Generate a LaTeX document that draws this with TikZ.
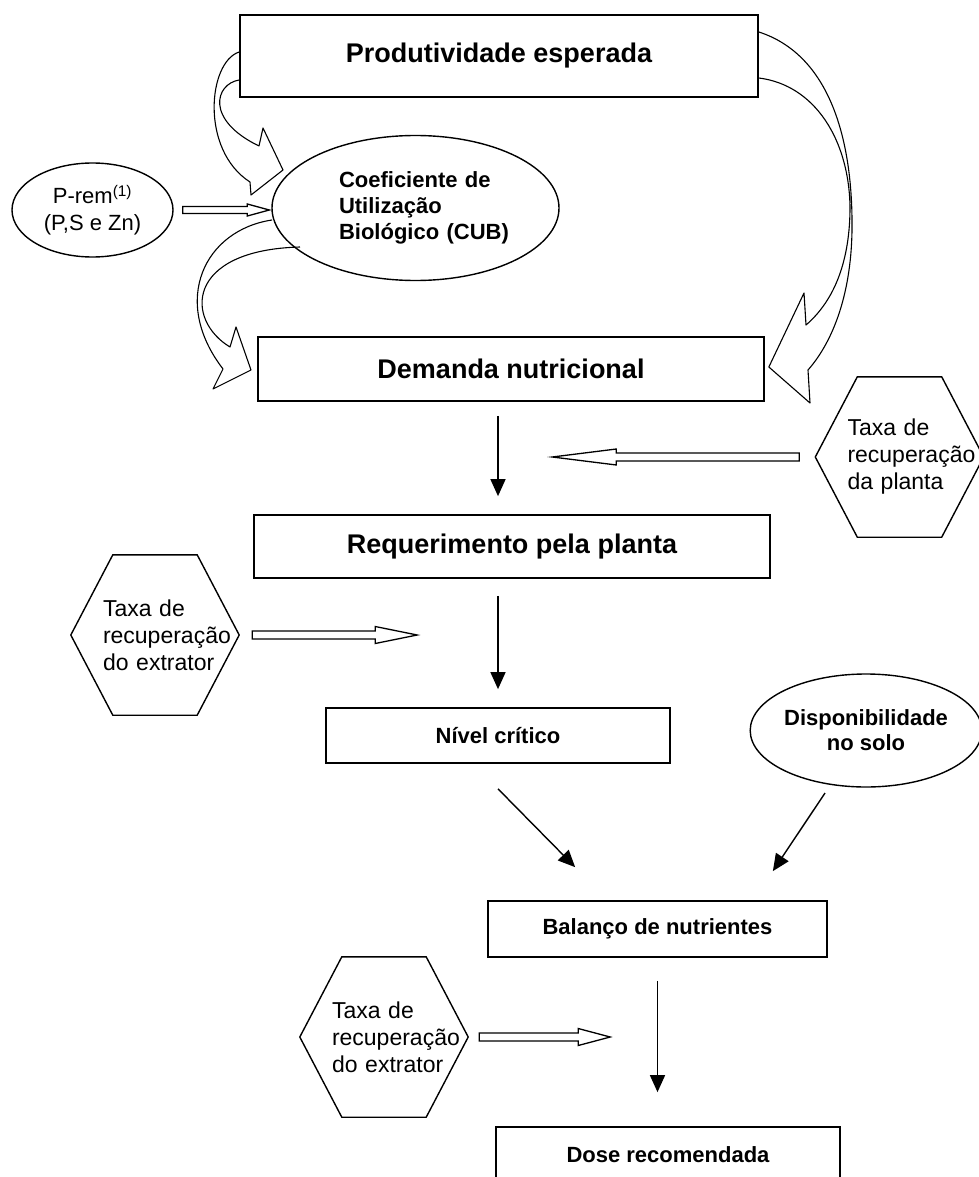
\documentclass[tikz,border=0pt]{standalone}
\usepackage{fontspec}
\setmainfont{Liberation Sans}
\usetikzlibrary{calc, arrows.meta, shapes.geometric, positioning}

\tikzset{
  caixa/.style={draw, line width=1.7pt, align=center, inner sep=0pt},
  caixagrande/.style={caixa, font=\fontsize{27}{32}\selectfont\bfseries},
  caixamenor/.style={caixa, font=\fontsize{22}{26}\selectfont\bfseries},
  elipse/.style={draw, ellipse, line width=1.4pt, inner sep=0pt},
  hexa/.style={inner sep=0pt, minimum width=168pt, minimum height=160pt,
    text width=104pt, align=left, font=\fontsize{23}{27}\selectfont},
  seta/.style={line width=1.4pt, -{Triangle[length=17pt,width=15pt]}},
  vazada/.style={line width=1.3pt, fill=white, line join=miter},
  curva/.style={line width=1.1pt, line join=round}
}

% hexagon frame around a named node
\newcommand{\hexframe}[1]{%
  \draw[line width=1.4pt] ($(#1.north west)+(42,0)$) -- ($(#1.north east)+(-42,0)$)
    -- (#1.east) -- ($(#1.south east)+(-42,0)$) -- ($(#1.south west)+(42,0)$)
    -- (#1.west) -- cycle;}

% hollow block arrow: tail, tip, head length, head half height, shaft half height
\newcommand{\blockarrow}[5]{%
  \coordinate (hb) at ($(#2)!#3!(#1)$);
  \draw[vazada] ($(#1)+(0,#5)$) -- ($(hb)+(0,#5)$) -- ($(hb)+(0,#4)$) -- (#2)
    -- ($(hb)+(0,-#4)$) -- ($(hb)+(0,-#5)$) -- ($(#1)+(0,-#5)$) -- cycle;}

\begin{document}
\begin{tikzpicture}[x=1pt, y=-1pt]
\useasboundingbox (0,0) rectangle (978,1177);

% --- Top part ---
\node[caixagrande, minimum width=518pt, minimum height=82pt] (prod) at (499,56) {Produtividade esperada};
\node[elipse, minimum width=287pt, minimum height=145pt, text width=153pt, align=left,
  font=\fontsize{22}{26}\selectfont\bfseries] (cub) at (415.5,208) {\mbox{Coeficiente de}\\Utilização\\\mbox{Biológico (CUB)}};
\node[elipse, minimum width=161pt, minimum height=94pt, align=center,
  font=\fontsize{22}{27}\selectfont] (prem) at (92.5,210) {P-rem\textsuperscript{(1)}\\(P,S e Zn)};
\node[caixagrande, minimum width=506pt, minimum height=64pt] (dem) at (511,369) {Demanda nutricional};
\node[hexa] (taxap) at (899.5,457) {Taxa de\\\mbox{recuperação}\\\mbox{da planta}};
\hexframe{taxap}

% --- Middle part ---
\node[caixagrande, minimum width=516pt, minimum height=63pt] (req) at (512,546.5) {Requerimento pela planta};
\node[hexa] (taxae) at (155,635) {Taxa de\\\mbox{recuperação}\\\mbox{do extrator}};
\hexframe{taxae}
\node[caixamenor, minimum width=344pt, minimum height=55pt] (niv) at (498,735.5) {Nível crítico};
\node[elipse, minimum width=216pt, minimum height=113pt, align=center,
  font=\fontsize{22}{25}\selectfont\bfseries] (disp) at (866,730.5) {Disponibilidade\\no solo};

% --- Bottom part ---
\node[caixamenor, minimum width=339pt, minimum height=56pt] (bal) at (657.5,929) {Balanço de nutrientes};
\node[hexa] (taxaf) at (384,1037) {Taxa de\\\mbox{recuperação}\\\mbox{do extrator}};
\hexframe{taxaf}
\node[caixamenor, minimum width=344pt, minimum height=56pt] (dose) at (668,1155) {Dose recomendada};

% --- Straight arrows ---
\draw[seta, shorten <=14pt, shorten >=18pt] (dem.south -| niv) -- (req.north -| niv);
\draw[seta, shorten <=17pt, shorten >=18pt] (req.south -| niv) -- (niv.north);
\draw[seta] ($(niv.south)+(0,25)$) -- ($(bal.north west)+(88,-33)$);
\draw[seta] ($(disp.center)+(-41,62.5)$) -- ($(bal.north east)+(-55,-29)$);
\draw[seta, shorten <=23pt, shorten >=34pt] (bal.south) -- (bal.south |- dose.north);

% --- Hollow arrows ---
\coordinate (a1) at ($(prem.east)+(9,0)$);
\coordinate (b1) at ($(cub.west)+(-2,2)$);
\blockarrow{a1}{b1}{22pt}{6}{3.5}
\coordinate (a2) at ($(taxap.west)+(-16,0)$);
\coordinate (b2) at ($(taxap.west)+(-263,0)$);
\blockarrow{a2}{b2}{64pt}{8}{4}
\coordinate (a3) at ($(taxae.east)+(13,0)$);
\coordinate (b3) at ($(taxae.east)+(178,0)$);
\blockarrow{a3}{b3}{42pt}{8.5}{4}
\coordinate (a4) at ($(taxaf.east)+(11,0)$);
\coordinate (b4) at ($(taxaf.east)+(142,0)$);
\blockarrow{a4}{b4}{32pt}{8.5}{4}

% --- Curved arrows ---
% Produtividade -> CUB
\draw[curva] ($(prod.west)+(0,-4)$) .. controls (208,62) and (200,150) .. (250,182)
  -- (251,195) -- (283,170) -- (263,128) -- (259,146)
  .. controls (205,120) and (215,84) .. ($(prod.west)+(0,24)$);
% CUB -> Demanda
\draw[curva] ($(cub.center)+(-143.5,12)$) .. controls (205,230) and (170,300) .. (223,369)
  -- (213,389) -- (251,370) -- (236,327) -- (230,347)
  .. controls (185,320) and (185,250) .. ($(cub.center)+(-115.5,39)$);
% Produtividade -> Demanda
\draw[curva] ($(prod.east)+(0,-24)$) .. controls (830,55) and (853,140) .. (852,230)
  .. controls (851,300) and (830,345) .. (808,370)
  -- (810,403) -- ($(dem.east)+(4,-2)$) -- (804,293) -- (806,325)
  .. controls (835,300) and (850,260) .. (850,207)
  .. controls (849,140) and (815,85) .. ($(prod.east)+(0,22)$);

\end{tikzpicture}
\end{document}
